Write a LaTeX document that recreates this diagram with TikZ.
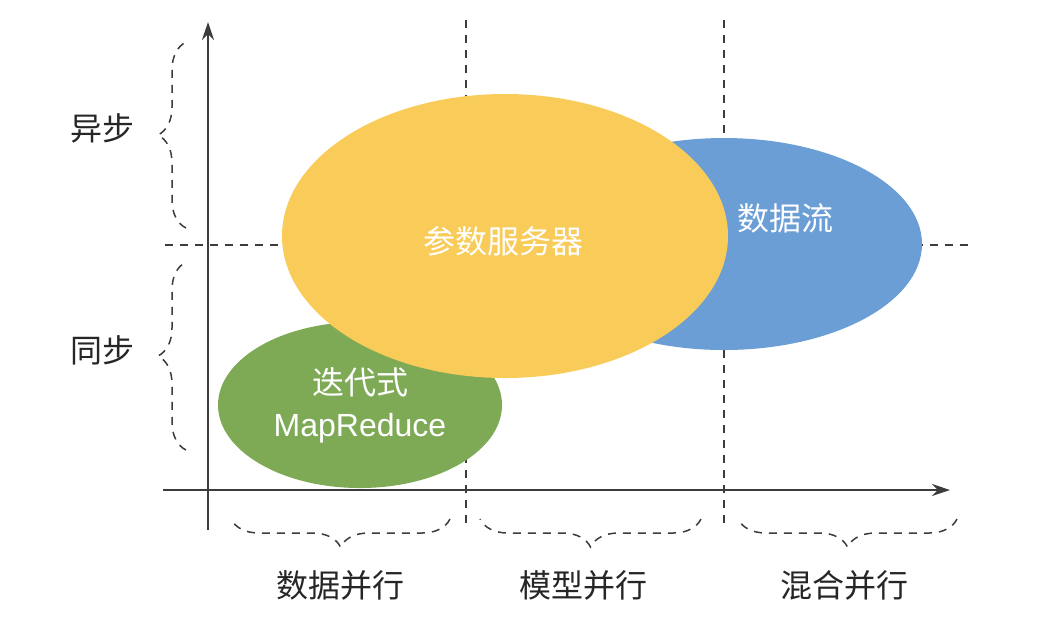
\documentclass[tikz,border=0pt]{standalone}
\usepackage{fontspec}
\setmainfont{Liberation Sans}
\newfontfamily\cjk{Noto Sans CJK SC}
\usepackage{xcolor}
\usetikzlibrary{shapes.geometric,decorations.pathreplacing,arrows.meta}
\definecolor{psyellow}{RGB}{249,203,88}
\definecolor{dfblue}{RGB}{108,158,214}
\definecolor{mrgreen}{RGB}{126,170,86}
\definecolor{axisgray}{RGB}{60,60,60}

\begin{document}
\begin{tikzpicture}[x=0.5pt,y=-0.5pt,
  guide/.style={axisgray,line width=0.75pt,dash pattern=on 4pt off 3.5pt},
  bracket/.style={guide,decorate,decoration={brace,amplitude=14pt}},
  blob/.style={ellipse,inner sep=0pt,text=white,align=center,font=\cjk\fontsize{16}{21}\selectfont},
  axislabel/.style={font=\cjk\fontsize{16}{20}\selectfont,text=black!85}]
\useasboundingbox (0,0) rectangle (1052,618);

% guide lines
\draw [guide] (165,245) -- (970,245);
\draw [guide] (466,20) -- (466,528);
\draw [guide] (724,20) -- (724,528);

% the three ellipses
\node [blob,fill=dfblue,minimum width=198pt,minimum height=106pt] (dataflow) at (724,244) {};
\node [blob,fill=mrgreen,minimum width=142pt,minimum height=83pt] (mapred) at (360,405) {迭代式\\{\fontspec{Liberation Sans}MapReduce}};
\node [blob,fill=psyellow,minimum width=223pt,minimum height=142pt] (pserver) at (505,236) {};
\node [blob] (pslabel) at (503,241) {参数服务器};
\node [blob] (dflabel) at (785,218) {数据流};

% axes
\draw [axisgray,line width=1pt,-{Stealth[length=9pt,width=6pt]}] (208,530) -- (208,22);
\draw [axisgray,line width=1pt,-{Stealth[length=9pt,width=6pt]}] (163,490) -- (950,490);

% braces
\draw [bracket] (186,228) -- (186,42) node [midway] (async) {};
\draw [bracket] (186,450) -- (186,262) node [midway] (sync) {};
\draw [bracket] (450,519) -- (231,519) node [midway] (dpar) {};
\draw [bracket] (701,519) -- (480,519) node [midway] (mpar) {};
\draw [bracket] (957,519) -- (738,519) node [midway] (hpar) {};

\node [axislabel] at (102,128) {异步};
\node [axislabel] at (102,350) {同步};
\node [axislabel] at (340,585) {数据并行};
\node [axislabel] at (583,585) {模型并行};
\node [axislabel] at (844,585) {混合并行};
\end{tikzpicture}
\end{document}
